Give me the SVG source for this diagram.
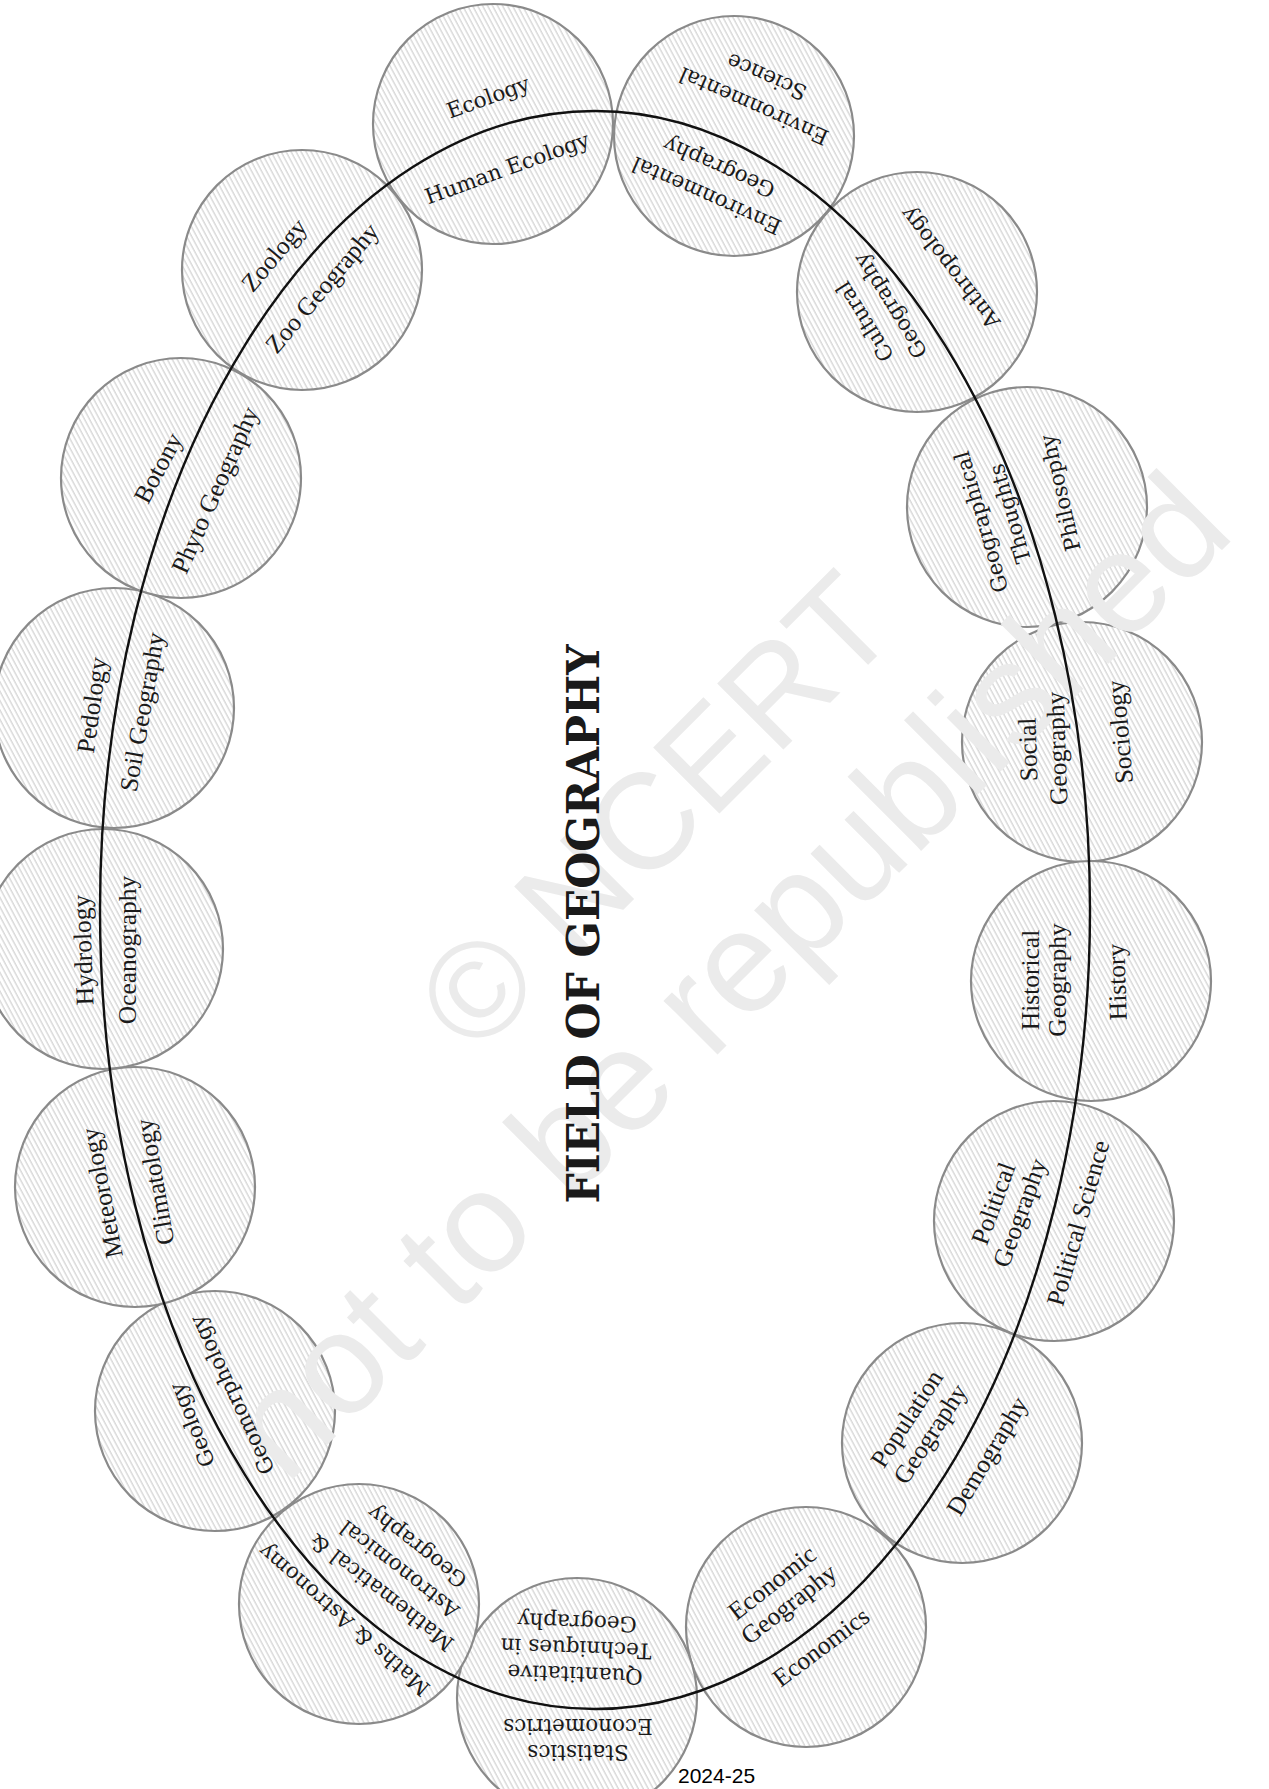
<svg xmlns="http://www.w3.org/2000/svg" width="1269" height="1789" viewBox="0 0 1269 1789">
<style>
.bg{fill:#ffffff}
.node{fill:url(#hatch);stroke:#8a8a8a;stroke-width:2.2}
.ring{fill:none;stroke:#111111;stroke-width:2.4}
.c{font-family:"DejaVu Serif","Liberation Serif",serif;font-size:21.5px;fill:#1a1a1a;text-anchor:middle;dominant-baseline:central}
.p{font-family:"Liberation Serif","DejaVu Serif",serif;font-size:25.5px;fill:#1a1a1a;text-anchor:middle;dominant-baseline:central}
.title{font-family:"DejaVu Serif","Liberation Serif",serif;font-weight:bold;font-size:44px;fill:#1a1a1a;text-anchor:middle}
.wm{font-family:"Liberation Sans",Arial,sans-serif;fill:#ebebeb}
.year{font-family:"Liberation Sans",Arial,sans-serif;font-size:21px;fill:#000000}
</style>
<defs>
<pattern id="hatch" patternUnits="userSpaceOnUse" width="4.4" height="10" patternTransform="rotate(-28)">
<rect width="4.4" height="10" fill="#ffffff"/>
<line x1="1" y1="0" x2="1" y2="10" stroke="#cdcdcd" stroke-width="1.1"/>
</pattern>
</defs>
<rect class="bg" width="1269" height="1789"/>

<g id="circles">
<g id="node-ecology"><circle class="node" cx="493" cy="124" r="120"/></g>
<g id="node-environmental"><circle class="node" cx="734" cy="136" r="120"/></g>
<g id="node-anthropology"><circle class="node" cx="917" cy="292" r="120"/></g>
<g id="node-philosophy"><circle class="node" cx="1027" cy="507" r="120"/></g>
<g id="node-sociology"><circle class="node" cx="1082" cy="742" r="120"/></g>
<g id="node-history"><circle class="node" cx="1091" cy="981" r="120"/></g>
<g id="node-political"><circle class="node" cx="1054" cy="1221" r="120"/></g>
<g id="node-population"><circle class="node" cx="962" cy="1443" r="120"/></g>
<g id="node-economics"><circle class="node" cx="806" cy="1627" r="120"/></g>
<g id="node-statistics"><circle class="node" cx="577" cy="1698" r="120"/></g>
<g id="node-maths"><circle class="node" cx="359" cy="1604" r="120"/></g>
<g id="node-geology"><circle class="node" cx="215" cy="1411" r="120"/></g>
<g id="node-climatology"><circle class="node" cx="135" cy="1187" r="120"/></g>
<g id="node-oceanography"><circle class="node" cx="103" cy="949" r="120"/></g>
<g id="node-soil"><circle class="node" cx="114" cy="708" r="120"/></g>
<g id="node-phyto"><circle class="node" cx="181" cy="478" r="120"/></g>
<g id="node-zoo"><circle class="node" cx="302" cy="270" r="120"/></g>
</g>

<g id="watermark">
<text class="wm" font-size="136" transform="translate(475 1058) rotate(-45)">© NCERT</text>
<text class="wm" font-size="144" transform="translate(286 1486) rotate(-45)">not to be republished</text>
</g>

<g id="connectors">
<ellipse class="ring" cx="595" cy="910" rx="495" ry="799"/>
</g>

<g id="labels">
<g id="label-ecology">
<text class="c" transform="translate(488 97) rotate(-20)">Ecology</text>
<text class="c" transform="translate(507 168) rotate(-20)">Human Ecology</text>
</g>
<g id="label-environmental">
<text class="c" transform="translate(760 92) rotate(204)"><tspan x="0" y="-16">Environmental</tspan><tspan x="0" y="16">Science</tspan></text>
<text class="c" transform="translate(712.5 182) rotate(204)"><tspan x="0" y="-15.5">Environmental</tspan><tspan x="0" y="15.5">Geography</tspan></text>
</g>
<g id="label-anthropology">
<text class="c" transform="translate(950 268) rotate(232)">Anthropology</text>
<text class="c" transform="translate(877 314) rotate(238)"><tspan x="0" y="-15">Cultural</tspan><tspan x="0" y="15">Geography</tspan></text>
</g>
<g id="label-philosophy">
<text class="c" transform="translate(1060 493) rotate(-103)">Philosophy</text>
<text class="c" transform="translate(995 518) rotate(-106)"><tspan x="0" y="-15">Geographical</tspan><tspan x="0" y="15">Thoughts</tspan></text>
</g>
<g id="label-sociology">
<text class="p" transform="translate(1120 732) rotate(-95)">Sociology</text>
<text class="p" transform="translate(1042 749) rotate(-92)"><tspan x="0" y="-14.5">Social</tspan><tspan x="0" y="14.5">Geography</tspan></text>
</g>
<g id="label-history">
<text class="p" transform="translate(1117 982) rotate(-92)">History</text>
<text class="p" transform="translate(1043 980) rotate(-90)"><tspan x="0" y="-13.5">Historical</tspan><tspan x="0" y="13.5">Geography</tspan></text>
</g>
<g id="label-political">
<text class="p" transform="translate(1078 1223) rotate(-74)">Political Science</text>
<text class="p" transform="translate(1006 1208) rotate(-70)"><tspan x="0" y="-14">Political</tspan><tspan x="0" y="14">Geography</tspan></text>
</g>
<g id="label-population">
<text class="p" transform="translate(987 1456) rotate(-59)">Demography</text>
<text class="p" transform="translate(918 1426) rotate(-57)"><tspan x="0" y="-14">Population</tspan><tspan x="0" y="14">Geography</tspan></text>
</g>
<g id="label-economics">
<text class="p" transform="translate(780 1593) rotate(-38)"><tspan x="0" y="-13.5">Economic</tspan><tspan x="0" y="13.5">Geography</tspan></text>
<text class="p" transform="translate(821 1647) rotate(-37)">Economics</text>
</g>
<g id="label-statistics">
<text class="c" transform="translate(576 1649) rotate(182)"><tspan x="0" y="-26">Quantitative</tspan><tspan x="0" y="0">Techniques in</tspan><tspan x="0" y="26">Geography</tspan></text>
<text class="c" transform="translate(578 1740) rotate(180)"><tspan x="0" y="-13">Statistics</tspan><tspan x="0" y="13">Econometrics</tspan></text>
</g>
<g id="label-maths">
<text class="c" transform="translate(344 1620) rotate(221)">Maths &amp; Astronomy</text>
<text class="c" transform="translate(399 1570) rotate(218)"><tspan x="0" y="-29">Mathematical &amp;</tspan><tspan x="0" y="0">Astronomical</tspan><tspan x="0" y="29">Geography</tspan></text>
</g>
<g id="label-geology">
<text class="c" transform="translate(192 1425) rotate(-112)">Geology</text>
<text class="c" transform="translate(232 1395) rotate(-115)">Geomorphology</text>
</g>
<g id="label-climatology">
<text class="p" transform="translate(102 1193) rotate(-101)">Meteorology</text>
<text class="p" transform="translate(155 1182) rotate(-100)">Climatology</text>
</g>
<g id="label-oceanography">
<text class="p" transform="translate(83 950) rotate(-92)">Hydrology</text>
<text class="p" transform="translate(127 950) rotate(-90)">Oceanography</text>
</g>
<g id="label-soil">
<text class="p" transform="translate(92 705) rotate(-82)">Pedology</text>
<text class="p" transform="translate(142 712) rotate(-80)">Soil Geography</text>
</g>
<g id="label-phyto">
<text class="p" transform="translate(158 468) rotate(-62)">Botony</text>
<text class="p" transform="translate(215 490) rotate(-66)">Phyto Geography</text>
</g>
<g id="label-zoo">
<text class="p" transform="translate(274 255) rotate(-50)">Zoology</text>
<text class="p" transform="translate(322 288) rotate(-50)">Zoo Geography</text>
</g>
</g>

<text id="title" class="title" transform="translate(599 924) rotate(-90)" textLength="559" lengthAdjust="spacingAndGlyphs">FIELD OF GEOGRAPHY</text>
<text id="year" class="year" x="678" y="1783">2024-25</text>
</svg>
